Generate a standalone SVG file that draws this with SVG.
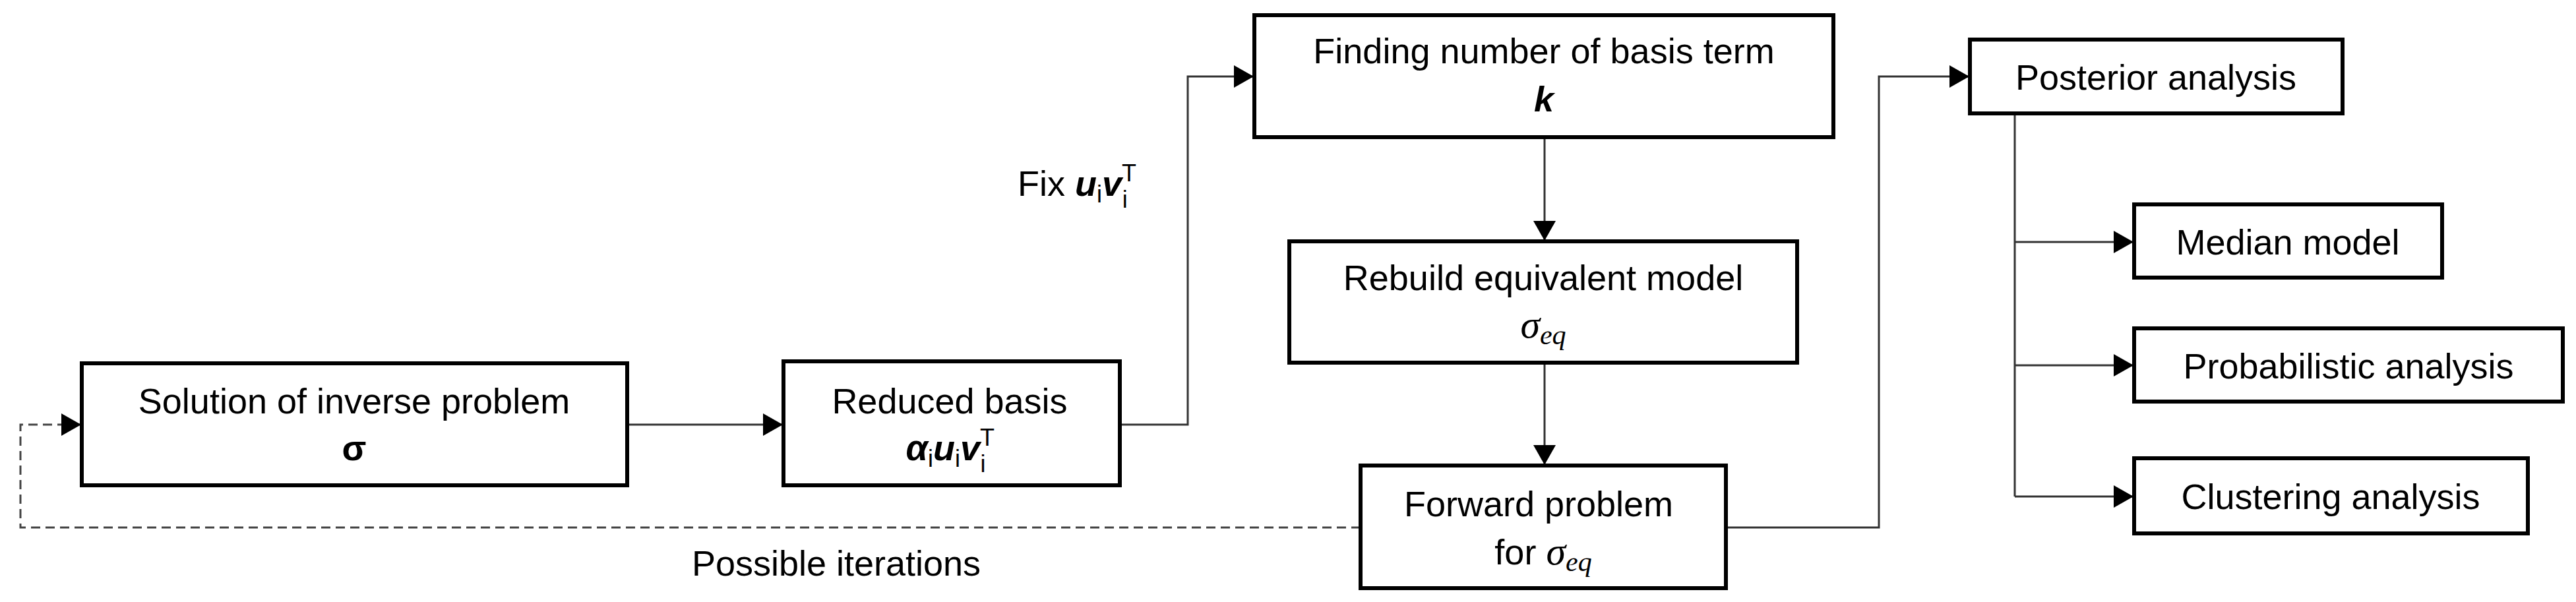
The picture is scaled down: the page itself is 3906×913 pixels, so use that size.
<svg xmlns="http://www.w3.org/2000/svg" width="3906" height="913" viewBox="0 0 3906 913">
<style>
.box{fill:#fff;stroke:#000;stroke-width:6}
.t{font-family:"Liberation Sans",Arial,sans-serif;font-size:54px;fill:#000;text-anchor:middle}
.m{font-family:"Liberation Serif","Times New Roman",serif;font-style:italic}
.c{fill:none;stroke:#333;stroke-width:3}
.d{fill:none;stroke:#444;stroke-width:3;stroke-dasharray:14 8}
</style>
<defs>
<marker id="a" markerUnits="userSpaceOnUse" markerWidth="30" markerHeight="34" refX="28" refY="17" orient="auto">
<path d="M0,0 L30,17 L0,34 Z" fill="#000"/>
</marker>
</defs>
<g id="connectors">
<path class="c" d="M951,644 H1185" marker-end="url(#a)"/>
<path class="c" d="M1698,644 H1801 V116 H1899" marker-end="url(#a)"/>
<path class="c" d="M2342,208 V363" marker-end="url(#a)"/>
<path class="c" d="M2342,550 V703" marker-end="url(#a)"/>
<path class="c" d="M2617,800 H2849 V116 H2984" marker-end="url(#a)"/>
<path class="c" d="M3055,172 V753"/>
<path class="c" d="M3055,367 H3233" marker-end="url(#a)"/>
<path class="c" d="M3055,554 H3233" marker-end="url(#a)"/>
<path class="c" d="M3055,753 H3233" marker-end="url(#a)"/>
<path class="d" d="M2063,800 H31 V644 H121" marker-end="url(#a)"/>
<text class="t" x="1268" y="873">Possible iterations</text>
<text class="t" x="1543" y="297" text-anchor="start" style="text-anchor:start">Fix <tspan font-weight="bold" font-style="italic">u</tspan><tspan font-size="36" dy="10">i</tspan><tspan font-weight="bold" font-style="italic" dy="-10">v</tspan><tspan font-size="36" dy="-22">T</tspan><tspan font-size="36" dx="-20" dy="40">i</tspan></text>
</g>
<g id="n-solution">
<rect class="box" x="124" y="551" width="827" height="185"/>
<text class="t" x="537" y="627">Solution of inverse problem</text>
<text class="t" x="537" y="698" font-weight="bold">σ</text>
</g>
<g id="n-reduced">
<rect class="box" x="1188" y="548" width="510" height="188"/>
<text class="t" x="1440" y="627">Reduced basis</text>
<text class="t" x="1440" y="698"><tspan font-weight="bold" font-style="italic">α</tspan><tspan font-size="36" dy="10">i</tspan><tspan font-weight="bold" font-style="italic" dy="-10">u</tspan><tspan font-size="36" dy="10">i</tspan><tspan font-weight="bold" font-style="italic" dy="-10">v</tspan><tspan font-size="36" dy="-22">T</tspan><tspan font-size="36" dx="-20" dy="40">i</tspan></text>
</g>
<g id="n-finding">
<rect class="box" x="1902" y="23" width="878" height="185"/>
<text class="t" x="2341" y="96">Finding number of basis term</text>
<text class="t" x="2341" y="169" font-weight="bold" font-style="italic">k</text>
</g>
<g id="n-rebuild">
<rect class="box" x="1955" y="366" width="770" height="184"/>
<text class="t" x="2340" y="440">Rebuild equivalent model</text>
<text class="t" x="2340" y="512"><tspan class="m" font-size="60">σ</tspan><tspan class="m" font-style="normal" font-size="42" dy="10">eq</tspan></text>
</g>
<g id="n-forward">
<rect class="box" x="2063" y="706" width="554" height="186"/>
<text class="t" x="2333" y="783">Forward problem</text>
<text class="t" x="2340" y="856">for <tspan class="m" font-size="60">σ</tspan><tspan class="m" font-style="normal" font-size="42" dy="10">eq</tspan></text>
</g>
<g id="n-posterior">
<rect class="box" x="2987" y="60" width="565" height="112"/>
<text class="t" x="3269" y="136">Posterior analysis</text>
</g>
<g id="n-median">
<rect class="box" x="3236" y="310" width="467" height="111"/>
<text class="t" x="3469" y="386">Median model</text>
</g>
<g id="n-prob">
<rect class="box" x="3236" y="498" width="650" height="111"/>
<text class="t" x="3561" y="574">Probabilistic analysis</text>
</g>
<g id="n-cluster">
<rect class="box" x="3236" y="695" width="597" height="114"/>
<text class="t" x="3534" y="772">Clustering analysis</text>
</g>
</svg>
